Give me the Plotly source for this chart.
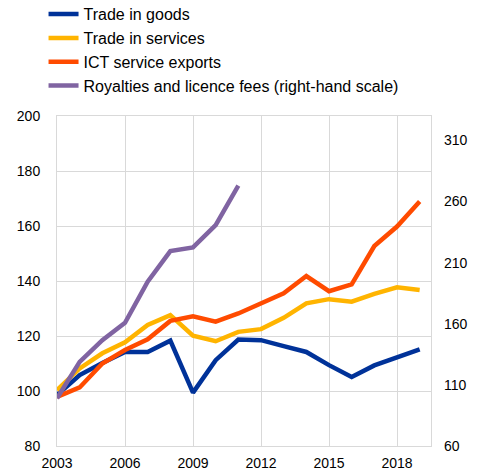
import plotly.graph_objects as go

years = list(range(2003, 2020))
trade_goods = [98.5, 105.8, 110.2, 114.2, 114.2, 118.3, 99.4, 111.2, 118.7, 118.5, 116.3, 114.2, 109.4, 105.1, 109.3, 112.4, 115.1]
trade_services = [100.3, 108.2, 113.7, 117.7, 124.0, 127.6, 120.1, 118.1, 121.5, 122.5, 126.6, 131.9, 133.4, 132.5, 135.3, 137.7, 136.7]
ict_exports = [97.8, 101.3, 110.0, 114.9, 118.8, 125.5, 127.2, 125.2, 128.2, 131.9, 135.5, 141.8, 136.3, 138.8, 152.7, 159.8, 168.9]
royalty_years = list(range(2003, 2012))
royalties = [99.0, 128.8, 146.6, 160.8, 194.4, 219.5, 222.5, 240.8, 273.0]

names = ["Trade in goods", "Trade in services", "ICT service exports",
         "Royalties and licence fees (right-hand scale)"]
colors = ["#003299", "#FFB400", "#FF4B00", "#8064A2"]

fig = go.Figure()
for name, ys, col in zip(names[:3], [trade_goods, trade_services, ict_exports], colors[:3]):
    fig.add_trace(go.Scatter(x=years, y=ys, name=name, mode="lines",
                             line=dict(color=col, width=4.5)))
fig.add_trace(go.Scatter(x=royalty_years, y=royalties, name=names[3], mode="lines",
                         line=dict(color=colors[3], width=4.5), yaxis="y2"))

grid = "#d9d9d9"
font = dict(family="Liberation Sans, Arial, sans-serif", size=14, color="#000000")
fig.update_layout(
    width=484, height=474,
    margin=dict(l=57, r=53, t=116, b=28, autoexpand=False),
    paper_bgcolor="white", plot_bgcolor="white",
    font=font,
    showlegend=True,
    legend=dict(x=-0.036, y=1.36, xanchor="left", yanchor="top",
                bgcolor="rgba(0,0,0,0)", font=dict(size=16),
                itemwidth=30, tracegroupgap=0),
    xaxis=dict(range=[2003, 2019.5], tick0=2003, dtick=3, showgrid=True,
               gridcolor=grid, gridwidth=1, showline=True, linecolor=grid,
               mirror=True, zeroline=False, ticks="", ticklabelstandoff=4),
    yaxis=dict(range=[80, 200], dtick=20, tick0=80, showgrid=True,
               gridcolor=grid, gridwidth=1, zeroline=False, ticks="",
               ticklabelstandoff=13, showline=True, linecolor=grid, mirror=True),
    yaxis2=dict(range=[60, 330], tickvals=[60, 110, 160, 210, 260, 310],
                overlaying="y", side="right", showgrid=False, zeroline=False,
                ticks="", ticklabelstandoff=12),
)
fig.write_html("out.html", config={"displayModeBar": False},
               post_script="document.body.style.margin='0';")
